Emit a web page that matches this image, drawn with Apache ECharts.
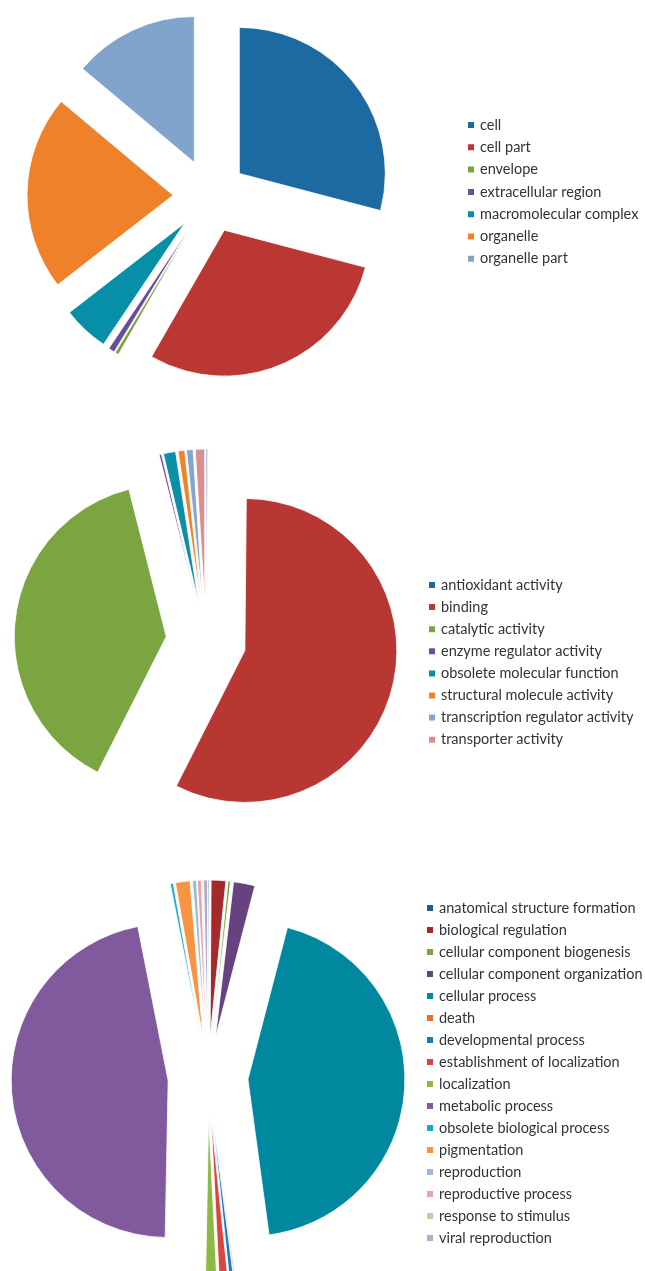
<!DOCTYPE html>
<html>
<head>
<meta charset="utf-8">
<script src="https://cdn.jsdelivr.net/npm/echarts@6/dist/echarts.min.js"></script>
<style>
  html, body { margin: 0; padding: 0; background: #ffffff; }
  #chart { width: 645px; height: 1271px; }
</style>
</head>
<body>
<div id="chart"></div>
<script>
// ---- Data: cellular component ----
const ccCategories = ['cell', 'cell part', 'envelope', 'extracellular region', 'macromolecular complex', 'organelle', 'organelle part'];
const ccValues = [29.1, 29.2, 0.4, 0.7, 5.1, 21.6, 13.9];

// ---- Data: molecular function ----
const mfCategories = ['antioxidant activity', 'binding', 'catalytic activity', 'enzyme regulator activity', 'obsolete molecular function', 'structural molecule activity', 'transcription regulator activity', 'transporter activity'];
const mfValues = [0.15, 57.3, 38.6, 0.25, 1.3, 0.7, 0.7, 1.0];

// ---- Data: biological process ----
const bpCategories = ['anatomical structure formation', 'biological regulation', 'cellular component biogenesis', 'cellular component organization', 'cellular process', 'death', 'developmental process', 'establishment of localization', 'localization', 'metabolic process', 'obsolete biological process', 'pigmentation', 'reproduction', 'reproductive process', 'response to stimulus', 'viral reproduction'];
const bpValues = [0.1, 1.5, 0.25, 2.2, 43.8, 0.1, 0.4, 0.85, 1.1, 46.6, 0.3, 1.5, 0.4, 0.4, 0.1, 0.4];

// ---- Styles ----
const ccColors = ['#1D69A1', '#BA3733', '#77A441', '#6B4C97', '#078FA8', '#EE812A', '#80A4CB'];
const mfColors = ['#1D69A1', '#B93733', '#7AA541', '#6E4E98', '#0C8EA7', '#F08329', '#82A5D1', '#D98E8F'];
const bpColors = ['#1C5C8E', '#A3292A', '#79A63F', '#66437F', '#00889E', '#E07325', '#1A7ABF', '#D84545', '#8DB844', '#805A9C', '#1AA8C7', '#F59443', '#9DB8DA', '#E6A5A5', '#B7D7A0', '#B7A8CC'];

function toData(cats, vals, colors) {
  return cats.map((c, i) => ({
    name: c,
    value: vals[i],
    selected: true,
    itemStyle: { color: colors[i] }
  }));
}

function pieSeries(cats, vals, colors, center, radius, offset) {
  return {
    type: 'pie',
    center: center,
    radius: radius,
    startAngle: 90,
    clockwise: true,
    selectedMode: 'multiple',
    selectedOffset: offset,
    avoidLabelOverlap: false,
    label: { show: false },
    labelLine: { show: false },
    emphasis: { disabled: true },
    itemStyle: { borderColor: '#ffffff', borderWidth: 0.8 },
    data: toData(cats, vals, colors)
  };
}

function legend(cats, left, top, gap) {
  return {
    data: cats,
    orient: 'vertical',
    left: left,
    top: top,
    icon: 'rect',
    itemWidth: 8,
    itemHeight: 8,
    itemGap: gap,
    selectedMode: false,
    padding: 0,
    textStyle: { fontFamily: 'Lato', fontSize: 14.5, color: '#333333', lineHeight: 16, padding: [0, 0, 0, 0] }
  };
}

const chart = echarts.init(document.getElementById('chart'), null, { renderer: 'canvas' });
chart.setOption({
  animation: false,
  backgroundColor: '#ffffff',
  legend: [
    legend(ccCategories, 466, 117, 6.3),
    legend(mfCategories, 427, 577, 6.1),
    legend(bpCategories, 425, 900, 6)
  ],
  series: [
    pieSeries(ccCategories, ccValues, ccColors, [210, 196], 146, 37),
    pieSeries(mfCategories, mfValues, mfColors, [206, 641], 152, 40),
    pieSeries(bpCategories, bpValues, bpColors, [208, 1077], 157, 40)
  ]
});
</script>
</body>
</html>
